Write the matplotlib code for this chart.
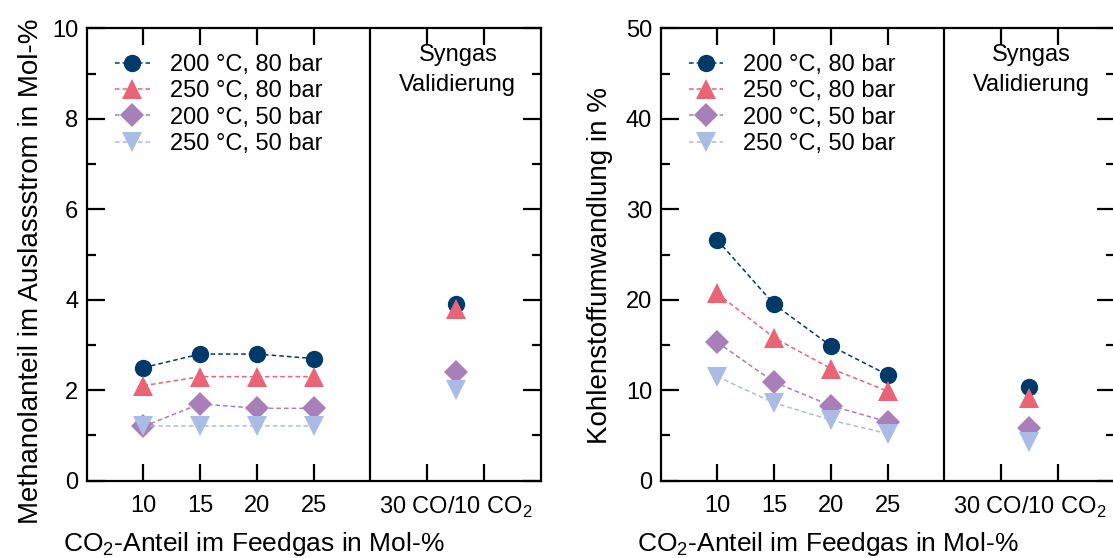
import numpy as np
import matplotlib
matplotlib.use("Agg")
import matplotlib.pyplot as plt
from matplotlib.ticker import MultipleLocator

plt.rcParams['font.family'] = ['Liberation Sans', 'DejaVu Sans']
plt.rcParams['mathtext.fontset'] = 'custom'
plt.rcParams['mathtext.rm'] = 'Liberation Sans'

# CO2 share in feed gas (Mol-%) and position of the syngas validation point
co2 = [10, 15, 20, 25]
syngas_x = 37.5

labels = ['200 °C, 80 bar', '250 °C, 80 bar', '200 °C, 50 bar', '250 °C, 50 bar']

# methanol share in outlet stream (Mol-%)
meoh_200_80 = [2.5, 2.8, 2.8, 2.7]
meoh_250_80 = [2.1, 2.3, 2.3, 2.3]
meoh_200_50 = [1.2, 1.7, 1.6, 1.6]
meoh_250_50 = [1.2, 1.2, 1.2, 1.2]
meoh_syngas = [3.9, 3.8, 2.4, 2.0]

# carbon conversion (%)
conv_200_80 = [26.6, 19.5, 14.9, 11.7]
conv_250_80 = [20.7, 15.8, 12.4, 9.9]
conv_200_50 = [15.3, 10.9, 8.3, 6.5]
conv_250_50 = [11.5, 8.6, 6.7, 5.2]
conv_syngas = [10.4, 9.1, 5.8, 4.3]

colors = ['#003a6b', '#ea6476', '#a97fba', '#aabbe6']
markers = ['o', '^', 'D', 'v']
msizes = [12.5, 14, 12, 14]

fs = 17
fs_xlab = 19
fs_ylab = 20

fig = plt.figure(figsize=(11.13, 5.58), dpi=100)
ax1 = fig.add_axes([0.0779, 0.1385, 0.4079, 0.8108])
ax2 = fig.add_axes([0.5935, 0.1385, 0.4079, 0.8108])


def panel(ax, series, syngas, ymax, major, minor, ylabel, ylab_x, ylab_y):
    for i, s in enumerate(series):
        ax.plot(co2, s, color=colors[i], ls=(0, (3, 2)), lw=1.1,
                marker=markers[i], ms=msizes[i], mec=colors[i], mew=0,
                label=labels[i], zorder=3)
        ax.plot([syngas_x], [syngas[i]], ls='none', color=colors[i],
                marker=markers[i], ms=msizes[i], mew=0, zorder=3)
    ax.axvline(30, color='black', lw=1.6)
    ax.set_xlim(5, 45)
    ax.set_ylim(0, ymax)
    ax.set_xticks([10, 15, 20, 25, 35, 40])
    ax.set_xticklabels(['10', '15', '20', '25', '', ''])
    ax.set_xticks([syngas_x], minor=True)
    ax.set_xticklabels(['30 CO/10 CO$_\\mathregular{2}$'], minor=True)
    ax.yaxis.set_major_locator(MultipleLocator(major))
    ax.yaxis.set_minor_locator(MultipleLocator(minor))
    ax.tick_params(axis='both', which='both', direction='in', top=True,
                   right=True, labelsize=fs, width=1.6)
    ax.tick_params(axis='x', which='major', length=12, pad=10)
    ax.tick_params(axis='x', which='minor', length=0, pad=10)
    ax.tick_params(axis='y', which='major', length=13, pad=6)
    ax.tick_params(axis='y', which='minor', length=6.5)
    for sp in ax.spines.values():
        sp.set_linewidth(1.6)
    ax.set_xlabel('CO$_\\mathregular{2}$-Anteil im Feedgas in Mol-%', fontsize=fs_xlab)
    ax.xaxis.set_label_coords(0.368, -0.11)
    ax.set_ylabel(ylabel, fontsize=fs_ylab)
    ax.yaxis.set_label_coords(ylab_x, ylab_y)
    ax.text(37.7, 0.965, 'Syngas\nValidierung', transform=ax.get_xaxis_transform(),
            ha='center', va='top', fontsize=fs, linespacing=1.45)
    ax.legend(loc='upper left', bbox_to_anchor=(0.063, 0.943), frameon=False,
              fontsize=fs, handlelength=1.45, handletextpad=0.85,
              labelspacing=0.18, borderpad=0, borderaxespad=0)


panel(ax1, [meoh_200_80, meoh_250_80, meoh_200_50, meoh_250_50], meoh_syngas,
      10, 2, 1, 'Methanolanteil im Auslassstrom in Mol-%', -0.094, 0.463)
panel(ax2, [conv_200_80, conv_250_80, conv_200_50, conv_250_50], conv_syngas,
      50, 10, 5, 'Kohlenstoffumwandlung in %', -0.105, 0.475)

fig.savefig('out.png', dpi=100)
